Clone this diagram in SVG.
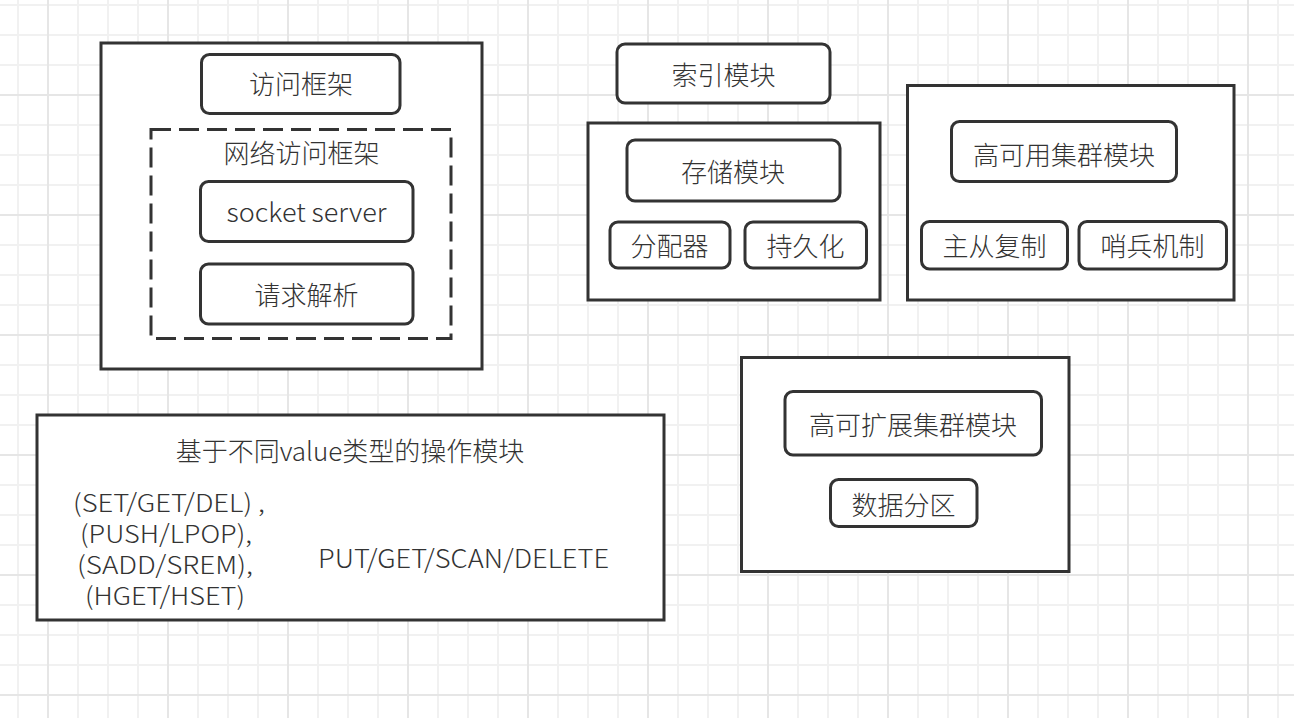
<svg xmlns="http://www.w3.org/2000/svg" width="1294" height="718" viewBox="0 0 1294 718">
  <defs>
    <pattern id="grid" patternUnits="userSpaceOnUse" x="17" y="4" width="120" height="120">
      <rect x="0" y="0" width="120" height="120" fill="#ffffff"/>
      <g fill="#f1f1f1">
        <rect x="0" y="0" width="2" height="120"/>
        <rect x="60" y="0" width="2" height="120"/>
        <rect x="90" y="0" width="2" height="120"/>
        <rect x="0" y="0" width="120" height="2"/>
        <rect x="0" y="30" width="120" height="2"/>
        <rect x="0" y="60" width="120" height="2"/>
      </g>
      <g fill="#e6e6e6">
        <rect x="30" y="0" width="2" height="120"/>
        <rect x="0" y="90" width="120" height="2"/>
      </g>
    </pattern>
  </defs>
  <style>
    .box { fill: #ffffff; stroke: #333333; stroke-width: 3; }
    .node { fill: #ffffff; stroke: #333333; stroke-width: 3; }
    .dash { fill: #ffffff; stroke: #333333; stroke-width: 3; stroke-dasharray: 20 8; }
    text { font-family: "Noto Sans CJK SC", "Noto Sans", sans-serif; font-size: 26px; font-weight: 300; fill: #333333; text-anchor: middle; }
    .small { font-size: 25px; }
  </style>
  <rect x="0" y="0" width="1294" height="718" fill="url(#grid)"/>

  <g id="access-container">
    <rect class="box" x="101" y="43" width="381" height="326"/>
  </g>
  <g id="access-framework">
    <rect class="node" x="201.5" y="54.5" width="198.5" height="59" rx="8"/>
    <text x="301" y="94">访问框架</text>
  </g>
  <g id="network-access">
    <rect class="dash" x="151" y="129.5" width="300" height="209"/>
    <text x="301.5" y="163">网络访问框架</text>
  </g>
  <g id="socket-server">
    <rect class="node" x="200.5" y="181.5" width="212.5" height="60" rx="8"/>
    <text x="306.5" y="222" textLength="160" lengthAdjust="spacingAndGlyphs">socket server</text>
  </g>
  <g id="request-parse">
    <rect class="node" x="200.5" y="264" width="212.5" height="60" rx="8"/>
    <text x="306.5" y="305">请求解析</text>
  </g>

  <g id="index-module">
    <rect class="node" x="617" y="44" width="213" height="59" rx="8"/>
    <text x="723.5" y="85">索引模块</text>
  </g>
  <g id="storage-container">
    <rect class="box" x="588" y="123" width="292" height="177"/>
  </g>
  <g id="storage-module">
    <rect class="node" x="627" y="140" width="213" height="61" rx="8"/>
    <text x="733" y="181.5">存储模块</text>
  </g>
  <g id="allocator">
    <rect class="node" x="610" y="222" width="120" height="46" rx="8"/>
    <text x="669.5" y="256">分配器</text>
  </g>
  <g id="persistence">
    <rect class="node" x="745" y="222" width="121.5" height="46" rx="8"/>
    <text x="805.5" y="256">持久化</text>
  </g>

  <g id="ha-container">
    <rect class="box" x="907.5" y="85.5" width="326.5" height="214.5"/>
  </g>
  <g id="ha-cluster">
    <rect class="node" x="951.5" y="121.5" width="225" height="60" rx="8"/>
    <text x="1064" y="164.5">高可用集群模块</text>
  </g>
  <g id="replication">
    <rect class="node" x="921.5" y="221.5" width="146" height="47.5" rx="8"/>
    <text x="994.5" y="256">主从复制</text>
  </g>
  <g id="sentinel">
    <rect class="node" x="1079" y="221.5" width="147.5" height="47.5" rx="8"/>
    <text x="1152.5" y="256">哨兵机制</text>
  </g>

  <g id="scale-container">
    <rect class="box" x="741.5" y="357.5" width="327.5" height="214"/>
  </g>
  <g id="scale-cluster">
    <rect class="node" x="785" y="391.5" width="256.5" height="63.5" rx="8"/>
    <text x="913" y="434.5">高可扩展集群模块</text>
  </g>
  <g id="partition">
    <rect class="node" x="830.5" y="479.5" width="146.5" height="47" rx="8"/>
    <text x="903.5" y="514.5">数据分区</text>
  </g>

  <g id="ops-module">
    <rect class="box" x="37" y="415" width="627" height="205"/>
    <text x="350" y="461">基于不同value类型的操作模块</text>
    <text class="small"><tspan x="169" y="512" textLength="192" lengthAdjust="spacingAndGlyphs">(SET/GET/DEL) ,</tspan><tspan x="166" y="543" textLength="172" lengthAdjust="spacingAndGlyphs">(PUSH/LPOP),</tspan><tspan x="165" y="574" textLength="176" lengthAdjust="spacingAndGlyphs">(SADD/SREM),</tspan><tspan x="165" y="605" textLength="160" lengthAdjust="spacingAndGlyphs">(HGET/HSET)</tspan></text>
    <text x="463.5" y="568" textLength="291" lengthAdjust="spacingAndGlyphs">PUT/GET/SCAN/DELETE</text>
  </g>

  <g id="connectors"></g>
</svg>
